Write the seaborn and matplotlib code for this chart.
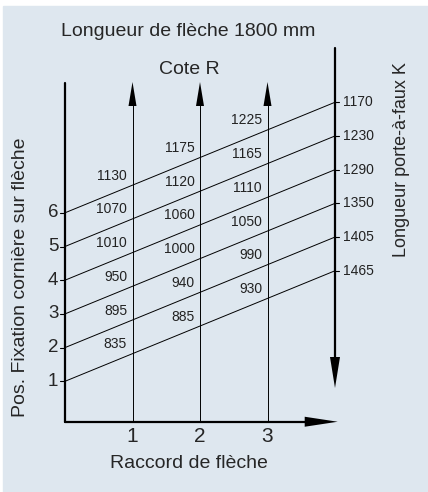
import numpy as np
import pandas as pd
import seaborn as sns
import matplotlib.pyplot as plt
from matplotlib.patches import Rectangle, Polygon
from matplotlib import font_manager

# --- data -------------------------------------------------------------
positions = [1, 2, 3, 4, 5, 6]                       # Pos. Fixation cornière
raccord = [1, 2, 3]                                  # Raccord de flèche
k_values = [1465, 1405, 1350, 1290, 1230, 1170]      # Longueur porte-à-faux K
cote_r = {
    1: [835, 895, 950, 1010, 1070, 1130],
    2: [885, 940, 1000, 1060, 1120, 1175],
    3: [930, 990, 1050, 1110, 1165, 1225],
}
rise = 3.28          # rise of every line between left axis (x=0) and K axis (x=4)
k_axis = 4

sns.set_style("white")
names = {f.name for f in font_manager.fontManager.ttflist}
fam = [f for f in ["Liberation Sans Narrow", "Liberation Sans", "DejaVu Sans"] if f in names]
plt.rcParams["font.family"] = fam

W, H = 428, 492
bg = "#dee7ef"
fig = plt.figure(figsize=(W / 100, H / 100), dpi=100, facecolor="white")
fig.patches.append(Rectangle((3 / W, 0), 1, 486 / H, transform=fig.transFigure,
                             color=bg, zorder=-10))

# pixel mapping: x=0 at px 65, 67.5 px/unit ; y=0 at px 415, 33.7 px/unit
x0, sx, y0, sy = 65, 67.5, 415, 33.7
ax = fig.add_axes([0, 0, 1, 1])
ax.set_xlim((0 - x0) / sx, (W - x0) / sx)
ax.set_ylim((y0 - H) / sy, y0 / sy)
ax.axis("off")

df = pd.DataFrame({
    "pos": positions * 2,
    "x": [0] * len(positions) + [k_axis] * len(positions),
    "y": positions + [p + rise for p in positions],
})
sns.lineplot(data=df, x="x", y="y", units="pos", estimator=None,
             color="black", lw=0.7, legend=False, ax=ax)


def head(tip, direction, length, width):
    # arrowhead given in pixels, drawn in data coords
    tx, ty = tip
    if direction == "up":
        pts = [(tx, ty), (tx - width / 2 / sx, ty - length / sy), (tx + width / 2 / sx, ty - length / sy)]
    elif direction == "down":
        pts = [(tx, ty), (tx - width / 2 / sx, ty + length / sy), (tx + width / 2 / sx, ty + length / sy)]
    else:
        pts = [(tx, ty), (tx - length / sx, ty - width / 2 / sy), (tx - length / sx, ty + width / 2 / sy)]
    ax.add_patch(Polygon(pts, closed=True, color="black", lw=0))


y_base = -0.2
top = (y0 - 82) / sy
# axes
ax.plot([0, 0], [y_base, (y0 - 83) / sy], color="black", lw=1.6)
ax.plot([0, 3.6], [y_base, y_base], color="black", lw=1.6)
head((4.04, y_base), "right", 33, 10)
k_top, k_tip = (y0 - 48) / sy, (y0 - 388) / sy
ax.plot([k_axis, k_axis], [k_top, k_tip + 0.5], color="black", lw=1.6)
head((k_axis, k_tip), "down", 31, 10)

for r in raccord:
    ax.plot([r, r], [y_base, top - 0.3], color="black", lw=0.7)
    head((r, top), "up", 24, 8)
    ax.text(r, (y0 - 436) / sy, str(r), ha="center", va="center", fontsize=15)
    for p, v in zip(positions, cote_r[r]):
        yy = p + rise * r / k_axis
        ax.text(r - 0.08, yy + 0.28, str(v), ha="right", va="center",
                fontsize=10, color="#222222")

for p in positions:
    ax.plot([-0.07, 0], [p, p], color="black", lw=0.8)
    ax.text(-0.1, p, str(p), ha="right", va="center", fontsize=13.5)

for p, k in zip(positions, k_values):
    ax.plot([k_axis, k_axis + 0.06], [p + rise, p + rise], color="black", lw=0.8)
    ax.text(k_axis + 0.12, p + rise, str(k), ha="left", va="center",
            fontsize=10, color="#222222")

fig.text(188 / W, 1 - 32 / H, "Longueur de flèche 1800 mm", ha="center", va="center", fontsize=14)
fig.text(189 / W, 1 - 70 / H, "Cote R", ha="center", va="center", fontsize=14)
fig.text(189 / W, 1 - 463 / H, "Raccord de flèche", ha="center", va="center", fontsize=14)
fig.text(21 / W, 1 - 277 / H, "Pos. Fixation cornière sur flèche", ha="center", va="center",
         rotation=90, fontsize=14)
fig.text(402 / W, 1 - 160 / H, "Longueur porte-à-faux K", ha="center", va="center",
         rotation=90, fontsize=13)

fig.savefig("out.png", dpi=100, facecolor="white")
